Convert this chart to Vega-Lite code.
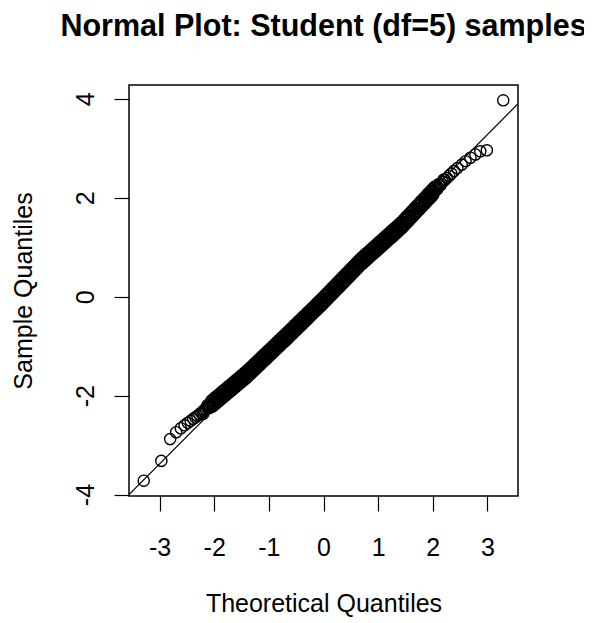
{
  "$schema": "https://vega.github.io/schema/vega-lite/v6.json",
  "autosize": {"type": "none"},
  "padding": {"left": 129, "top": 85, "right": 66, "bottom": 127},
  "width": 389,
  "height": 411,
  "background": "white",
  "title": {"text": "Normal Plot: Student (df=5) samples", "font": "Liberation Sans", "fontSize": 30.5, "fontWeight": "bold", "color": "black", "anchor": "middle", "frame": "group", "baseline": "alphabetic", "offset": 19},
  "config": {
    "view": {"stroke": "black", "strokeWidth": 1.5},
    "axis": {"labelFont": "Liberation Sans", "titleFont": "Liberation Sans", "labelFontSize": 25, "titleFontSize": 25, "titleFontWeight": "normal", "labelColor": "black", "titleColor": "black", "tickColor": "black", "tickWidth": 1.2, "tickSize": 15, "domain": false, "grid": false, "labelFlush": false, "labelOverlap": false, "labelExpr": "'' + datum.value"}
  },
  "datasets": {
    "pts": [
      {"x": -3.29, "y": -3.72}, {"x": -2.968, "y": -3.32}, {"x": -2.807, "y": -2.88}, {"x": -2.697, "y": -2.74}, {"x": -2.612, "y": -2.66}, {"x": -2.543, "y": -2.60}, {"x": -2.484, "y": -2.55}, {"x": -2.432, "y": -2.51}, {"x": -2.387, "y": -2.47}, {"x": -2.346, "y": -2.44}, {"x": -2.308, "y": -2.41}, {"x": -2.273, "y": -2.38}, {"x": -2.241, "y": -2.35}, {"x": -2.21, "y": -2.32}, {"x": -2.2, "y": -2.37}, {"x": -2.183, "y": -2.29}, {"x": -2.156, "y": -2.27}, {"x": -2.131, "y": -2.24}, {"x": -2.12, "y": -2.19}, {"x": -2.108, "y": -2.22}, {"x": -2.09, "y": -2.25}, {"x": -2.085, "y": -2.20},
      {"x": -2.06, "y": -2.178}, {"x": -2.04, "y": -2.109}, {"x": -2.02, "y": -2.190}, {"x": -2.00, "y": -2.122}, {"x": -1.98, "y": -2.053}, {"x": -1.96, "y": -2.135}, {"x": -1.94, "y": -2.066}, {"x": -1.92, "y": -1.998}, {"x": -1.90, "y": -2.079}, {"x": -1.88, "y": -2.011}, {"x": -1.86, "y": -1.942}, {"x": -1.84, "y": -2.023}, {"x": -1.82, "y": -1.955}, {"x": -1.80, "y": -1.886}, {"x": -1.78, "y": -1.968}, {"x": -1.76, "y": -1.899}, {"x": -1.74, "y": -1.831}, {"x": -1.72, "y": -1.912}, {"x": -1.70, "y": -1.843}, {"x": -1.68, "y": -1.775}, {"x": -1.66, "y": -1.856}, {"x": -1.64, "y": -1.788}, {"x": -1.62, "y": -1.719}, {"x": -1.60, "y": -1.801}, {"x": -1.58, "y": -1.732}, {"x": -1.56, "y": -1.664}, {"x": -1.54, "y": -1.745}, {"x": -1.52, "y": -1.676}, {"x": -1.50, "y": -1.608}, {"x": -1.48, "y": -1.689}, {"x": -1.46, "y": -1.621}, {"x": -1.44, "y": -1.552}, {"x": -1.42, "y": -1.634}, {"x": -1.40, "y": -1.565},
      {"x": -1.38, "y": -1.494}, {"x": -1.36, "y": -1.573}, {"x": -1.34, "y": -1.502}, {"x": -1.32, "y": -1.431}, {"x": -1.30, "y": -1.510}, {"x": -1.28, "y": -1.438}, {"x": -1.26, "y": -1.367}, {"x": -1.24, "y": -1.446}, {"x": -1.22, "y": -1.375}, {"x": -1.20, "y": -1.304}, {"x": -1.18, "y": -1.383}, {"x": -1.16, "y": -1.312}, {"x": -1.14, "y": -1.241}, {"x": -1.12, "y": -1.320}, {"x": -1.10, "y": -1.248}, {"x": -1.08, "y": -1.177}, {"x": -1.06, "y": -1.256}, {"x": -1.04, "y": -1.185}, {"x": -1.02, "y": -1.114}, {"x": -1.00, "y": -1.193}, {"x": -0.98, "y": -1.122}, {"x": -0.96, "y": -1.051}, {"x": -0.94, "y": -1.130}, {"x": -0.92, "y": -1.059}, {"x": -0.90, "y": -0.987}, {"x": -0.88, "y": -1.066}, {"x": -0.86, "y": -0.995}, {"x": -0.84, "y": -0.924}, {"x": -0.82, "y": -1.003}, {"x": -0.80, "y": -0.932}, {"x": -0.78, "y": -0.861}, {"x": -0.76, "y": -0.940}, {"x": -0.74, "y": -0.869}, {"x": -0.72, "y": -0.797}, {"x": -0.70, "y": -0.876}, {"x": -0.68, "y": -0.805},
      {"x": -0.66, "y": -0.734}, {"x": -0.64, "y": -0.812}, {"x": -0.62, "y": -0.741}, {"x": -0.60, "y": -0.669}, {"x": -0.58, "y": -0.748}, {"x": -0.56, "y": -0.676}, {"x": -0.54, "y": -0.604}, {"x": -0.52, "y": -0.683}, {"x": -0.50, "y": -0.611}, {"x": -0.48, "y": -0.540}, {"x": -0.46, "y": -0.618}, {"x": -0.44, "y": -0.546}, {"x": -0.42, "y": -0.475}, {"x": -0.40, "y": -0.553}, {"x": -0.38, "y": -0.482}, {"x": -0.36, "y": -0.410}, {"x": -0.34, "y": -0.488}, {"x": -0.32, "y": -0.417}, {"x": -0.30, "y": -0.345}, {"x": -0.28, "y": -0.424}, {"x": -0.26, "y": -0.352}, {"x": -0.24, "y": -0.280}, {"x": -0.22, "y": -0.359}, {"x": -0.20, "y": -0.287}, {"x": -0.18, "y": -0.215}, {"x": -0.16, "y": -0.294}, {"x": -0.14, "y": -0.222}, {"x": -0.12, "y": -0.151}, {"x": -0.10, "y": -0.229}, {"x": -0.08, "y": -0.157}, {"x": -0.06, "y": -0.086}, {"x": -0.04, "y": -0.164}, {"x": -0.02, "y": -0.093}, {"x": 0.00, "y": -0.021},
      {"x": 0.02, "y": -0.098}, {"x": 0.04, "y": -0.025}, {"x": 0.06, "y": 0.047}, {"x": 0.08, "y": -0.030}, {"x": 0.10, "y": 0.043}, {"x": 0.12, "y": 0.116}, {"x": 0.14, "y": 0.039}, {"x": 0.16, "y": 0.111}, {"x": 0.18, "y": 0.184}, {"x": 0.20, "y": 0.107}, {"x": 0.22, "y": 0.180}, {"x": 0.24, "y": 0.253}, {"x": 0.26, "y": 0.175}, {"x": 0.28, "y": 0.248}, {"x": 0.30, "y": 0.321}, {"x": 0.32, "y": 0.244}, {"x": 0.34, "y": 0.317}, {"x": 0.36, "y": 0.389}, {"x": 0.38, "y": 0.312}, {"x": 0.40, "y": 0.385}, {"x": 0.42, "y": 0.458}, {"x": 0.44, "y": 0.381}, {"x": 0.46, "y": 0.453}, {"x": 0.48, "y": 0.526}, {"x": 0.50, "y": 0.449}, {"x": 0.52, "y": 0.522}, {"x": 0.54, "y": 0.595}, {"x": 0.56, "y": 0.517}, {"x": 0.58, "y": 0.590}, {"x": 0.60, "y": 0.663}, {"x": 0.62, "y": 0.586}, {"x": 0.64, "y": 0.659}, {"x": 0.66, "y": 0.731},
      {"x": 0.68, "y": 0.653}, {"x": 0.70, "y": 0.722}, {"x": 0.72, "y": 0.792}, {"x": 0.74, "y": 0.712}, {"x": 0.76, "y": 0.782}, {"x": 0.78, "y": 0.852}, {"x": 0.80, "y": 0.772}, {"x": 0.82, "y": 0.841}, {"x": 0.84, "y": 0.911}, {"x": 0.86, "y": 0.831}, {"x": 0.88, "y": 0.901}, {"x": 0.90, "y": 0.971}, {"x": 0.92, "y": 0.891}, {"x": 0.94, "y": 0.960}, {"x": 0.96, "y": 1.030}, {"x": 0.98, "y": 0.950}, {"x": 1.00, "y": 1.020}, {"x": 1.02, "y": 1.090}, {"x": 1.04, "y": 1.010}, {"x": 1.06, "y": 1.079}, {"x": 1.08, "y": 1.149}, {"x": 1.10, "y": 1.069}, {"x": 1.12, "y": 1.139}, {"x": 1.14, "y": 1.209}, {"x": 1.16, "y": 1.129}, {"x": 1.18, "y": 1.198}, {"x": 1.20, "y": 1.268}, {"x": 1.22, "y": 1.188}, {"x": 1.24, "y": 1.258}, {"x": 1.26, "y": 1.328}, {"x": 1.28, "y": 1.248}, {"x": 1.30, "y": 1.317}, {"x": 1.32, "y": 1.387}, {"x": 1.34, "y": 1.307}, {"x": 1.36, "y": 1.377}, {"x": 1.38, "y": 1.447}, {"x": 1.40, "y": 1.367}, {"x": 1.42, "y": 1.436},
      {"x": 1.44, "y": 1.508}, {"x": 1.46, "y": 1.432}, {"x": 1.48, "y": 1.505}, {"x": 1.50, "y": 1.579}, {"x": 1.52, "y": 1.502}, {"x": 1.54, "y": 1.576}, {"x": 1.56, "y": 1.649}, {"x": 1.58, "y": 1.573}, {"x": 1.60, "y": 1.646}, {"x": 1.62, "y": 1.720}, {"x": 1.64, "y": 1.643}, {"x": 1.66, "y": 1.717}, {"x": 1.68, "y": 1.790}, {"x": 1.70, "y": 1.714}, {"x": 1.72, "y": 1.787}, {"x": 1.74, "y": 1.861}, {"x": 1.76, "y": 1.784}, {"x": 1.78, "y": 1.858}, {"x": 1.80, "y": 1.931}, {"x": 1.82, "y": 1.855}, {"x": 1.84, "y": 1.928}, {"x": 1.86, "y": 2.002}, {"x": 1.88, "y": 1.925}, {"x": 1.90, "y": 1.999}, {"x": 1.92, "y": 2.072}, {"x": 1.94, "y": 1.996}, {"x": 1.96, "y": 2.069}, {"x": 1.98, "y": 2.143}, {"x": 2.00, "y": 2.066}, {"x": 2.02, "y": 2.140}, {"x": 2.04, "y": 2.213},
      {"x": 2.06, "y": 2.19}, {"x": 2.08, "y": 2.17}, {"x": 2.09, "y": 2.22}, {"x": 2.11, "y": 2.28}, {"x": 2.12, "y": 2.255}, {"x": 2.14, "y": 2.25}, {"x": 2.15, "y": 2.29}, {"x": 2.18, "y": 2.325}, {"x": 2.2, "y": 2.37}, {"x": 2.22, "y": 2.36}, {"x": 2.26, "y": 2.40}, {"x": 2.30, "y": 2.445}, {"x": 2.34, "y": 2.49}, {"x": 2.39, "y": 2.54}, {"x": 2.45, "y": 2.60}, {"x": 2.53, "y": 2.67}, {"x": 2.60, "y": 2.74}, {"x": 2.69, "y": 2.81}, {"x": 2.78, "y": 2.875}, {"x": 2.87, "y": 2.94}, {"x": 2.99, "y": 2.96}, {"x": 3.29, "y": 3.97},
      {"x": -2.05, "y": -2.098}, {"x": -2.03, "y": -2.220}, {"x": -2.01, "y": -2.061}, {"x": -1.99, "y": -2.183}, {"x": -1.97, "y": -2.024}, {"x": -1.95, "y": -2.146}, {"x": -1.93, "y": -1.987}, {"x": -1.91, "y": -2.108}, {"x": -1.89, "y": -1.950}, {"x": -1.87, "y": -2.071}, {"x": -1.85, "y": -1.913}, {"x": -1.83, "y": -2.034}, {"x": -1.81, "y": -1.876}, {"x": -1.79, "y": -1.997}, {"x": -1.77, "y": -1.838}, {"x": -1.75, "y": -1.960}, {"x": -1.73, "y": -1.801}, {"x": -1.71, "y": -1.923}, {"x": -1.69, "y": -1.764}, {"x": -1.67, "y": -1.886}, {"x": -1.65, "y": -1.727}, {"x": -1.63, "y": -1.849}, {"x": -1.61, "y": -1.690}, {"x": -1.59, "y": -1.811}, {"x": -1.57, "y": -1.653}, {"x": -1.55, "y": -1.774}, {"x": -1.53, "y": -1.616}, {"x": -1.51, "y": -1.737}, {"x": -1.49, "y": -1.579}, {"x": -1.47, "y": -1.700}, {"x": -1.45, "y": -1.541}, {"x": -1.43, "y": -1.663}, {"x": -1.41, "y": -1.504},
      {"x": -1.39, "y": -1.624}, {"x": -1.37, "y": -1.463}, {"x": -1.35, "y": -1.582}, {"x": -1.33, "y": -1.421}, {"x": -1.31, "y": -1.540}, {"x": -1.29, "y": -1.379}, {"x": -1.27, "y": -1.498}, {"x": -1.25, "y": -1.337}, {"x": -1.23, "y": -1.456}, {"x": -1.21, "y": -1.295}, {"x": -1.19, "y": -1.413}, {"x": -1.17, "y": -1.252}, {"x": -1.15, "y": -1.371}, {"x": -1.13, "y": -1.210}, {"x": -1.11, "y": -1.329}, {"x": -1.09, "y": -1.168}, {"x": -1.07, "y": -1.287}, {"x": -1.05, "y": -1.126}, {"x": -1.03, "y": -1.245}, {"x": -1.01, "y": -1.084}, {"x": -0.99, "y": -1.202}, {"x": -0.97, "y": -1.041}, {"x": -0.95, "y": -1.160}, {"x": -0.93, "y": -0.999}, {"x": -0.91, "y": -1.118}, {"x": -0.89, "y": -0.957}, {"x": -0.87, "y": -1.076}, {"x": -0.85, "y": -0.915}, {"x": -0.83, "y": -1.034}, {"x": -0.81, "y": -0.872}, {"x": -0.79, "y": -0.991}, {"x": -0.77, "y": -0.830}, {"x": -0.75, "y": -0.949}, {"x": -0.73, "y": -0.788}, {"x": -0.71, "y": -0.907}, {"x": -0.69, "y": -0.746}, {"x": -0.67, "y": -0.865},
      {"x": -0.65, "y": -0.703}, {"x": -0.63, "y": -0.822}, {"x": -0.61, "y": -0.660}, {"x": -0.59, "y": -0.778}, {"x": -0.57, "y": -0.617}, {"x": -0.55, "y": -0.735}, {"x": -0.53, "y": -0.574}, {"x": -0.51, "y": -0.692}, {"x": -0.49, "y": -0.530}, {"x": -0.47, "y": -0.649}, {"x": -0.45, "y": -0.487}, {"x": -0.43, "y": -0.606}, {"x": -0.41, "y": -0.444}, {"x": -0.39, "y": -0.562}, {"x": -0.37, "y": -0.401}, {"x": -0.35, "y": -0.519}, {"x": -0.33, "y": -0.358}, {"x": -0.31, "y": -0.476}, {"x": -0.29, "y": -0.314}, {"x": -0.27, "y": -0.433}, {"x": -0.25, "y": -0.271}, {"x": -0.23, "y": -0.389}, {"x": -0.21, "y": -0.228}, {"x": -0.19, "y": -0.346}, {"x": -0.17, "y": -0.185}, {"x": -0.15, "y": -0.303}, {"x": -0.13, "y": -0.141}, {"x": -0.11, "y": -0.260}, {"x": -0.09, "y": -0.098}, {"x": -0.07, "y": -0.217}, {"x": -0.05, "y": -0.055}, {"x": -0.03, "y": -0.173}, {"x": -0.01, "y": -0.012},
      {"x": 0.01, "y": -0.130}, {"x": 0.03, "y": 0.033}, {"x": 0.05, "y": -0.084}, {"x": 0.07, "y": 0.079}, {"x": 0.09, "y": -0.038}, {"x": 0.11, "y": 0.124}, {"x": 0.13, "y": 0.007}, {"x": 0.15, "y": 0.170}, {"x": 0.17, "y": 0.053}, {"x": 0.19, "y": 0.216}, {"x": 0.21, "y": 0.098}, {"x": 0.23, "y": 0.261}, {"x": 0.25, "y": 0.144}, {"x": 0.27, "y": 0.307}, {"x": 0.29, "y": 0.190}, {"x": 0.31, "y": 0.352}, {"x": 0.33, "y": 0.235}, {"x": 0.35, "y": 0.398}, {"x": 0.37, "y": 0.281}, {"x": 0.39, "y": 0.444}, {"x": 0.41, "y": 0.326}, {"x": 0.43, "y": 0.489}, {"x": 0.45, "y": 0.372}, {"x": 0.47, "y": 0.535}, {"x": 0.49, "y": 0.418}, {"x": 0.51, "y": 0.580}, {"x": 0.53, "y": 0.463}, {"x": 0.55, "y": 0.626}, {"x": 0.57, "y": 0.509}, {"x": 0.59, "y": 0.672}, {"x": 0.61, "y": 0.554}, {"x": 0.63, "y": 0.717}, {"x": 0.65, "y": 0.600},
      {"x": 0.67, "y": 0.763}, {"x": 0.69, "y": 0.643}, {"x": 0.71, "y": 0.802}, {"x": 0.73, "y": 0.682}, {"x": 0.75, "y": 0.842}, {"x": 0.77, "y": 0.722}, {"x": 0.79, "y": 0.882}, {"x": 0.81, "y": 0.762}, {"x": 0.83, "y": 0.921}, {"x": 0.85, "y": 0.801}, {"x": 0.87, "y": 0.961}, {"x": 0.89, "y": 0.841}, {"x": 0.91, "y": 1.001}, {"x": 0.93, "y": 0.881}, {"x": 0.95, "y": 1.040}, {"x": 0.97, "y": 0.920}, {"x": 0.99, "y": 1.080}, {"x": 1.01, "y": 0.960}, {"x": 1.03, "y": 1.120}, {"x": 1.05, "y": 0.999}, {"x": 1.07, "y": 1.159}, {"x": 1.09, "y": 1.039}, {"x": 1.11, "y": 1.199}, {"x": 1.13, "y": 1.079}, {"x": 1.15, "y": 1.239}, {"x": 1.17, "y": 1.119}, {"x": 1.19, "y": 1.278}, {"x": 1.21, "y": 1.158}, {"x": 1.23, "y": 1.318}, {"x": 1.25, "y": 1.198}, {"x": 1.27, "y": 1.358}, {"x": 1.29, "y": 1.238}, {"x": 1.31, "y": 1.397}, {"x": 1.33, "y": 1.277}, {"x": 1.35, "y": 1.437}, {"x": 1.37, "y": 1.317}, {"x": 1.39, "y": 1.477}, {"x": 1.41, "y": 1.356}, {"x": 1.43, "y": 1.516},
      {"x": 1.45, "y": 1.400}, {"x": 1.47, "y": 1.563}, {"x": 1.49, "y": 1.447}, {"x": 1.51, "y": 1.610}, {"x": 1.53, "y": 1.494}, {"x": 1.55, "y": 1.657}, {"x": 1.57, "y": 1.541}, {"x": 1.59, "y": 1.704}, {"x": 1.61, "y": 1.588}, {"x": 1.63, "y": 1.751}, {"x": 1.65, "y": 1.635}, {"x": 1.67, "y": 1.798}, {"x": 1.69, "y": 1.682}, {"x": 1.71, "y": 1.845}, {"x": 1.73, "y": 1.729}, {"x": 1.75, "y": 1.892}, {"x": 1.77, "y": 1.776}, {"x": 1.79, "y": 1.939}, {"x": 1.81, "y": 1.823}, {"x": 1.83, "y": 1.986}, {"x": 1.85, "y": 1.870}, {"x": 1.87, "y": 2.033}, {"x": 1.89, "y": 1.917}, {"x": 1.91, "y": 2.080}, {"x": 1.93, "y": 1.964}, {"x": 1.95, "y": 2.127}, {"x": 1.97, "y": 2.011}, {"x": 1.99, "y": 2.174}, {"x": 2.01, "y": 2.058}, {"x": 2.03, "y": 2.221}
    ],
    "ref": [{"x": -3.56, "y": -4.003}, {"x": 3.56, "y": 3.901}]
  },
  "encoding": {
    "x": {"field": "x", "type": "quantitative", "scale": {"domain": [-3.56, 3.56], "nice": false, "zero": false},
      "axis": {"values": [-3, -2, -1, 0, 1, 2, 3], "title": "Theoretical Quantiles", "labelPadding": 24, "titleX": 194.5, "titleY": 115, "titleBaseline": "alphabetic", "titleAlign": "center"}},
    "y": {"field": "y", "type": "quantitative", "scale": {"domain": [-4.03, 4.28], "nice": false, "zero": false},
      "axis": {"values": [-4, -2, 0, 2, 4], "title": "Sample Quantiles", "labelAngle": 270, "labelAlign": "center", "labelBaseline": "alphabetic", "labelPadding": 21, "titleX": -97.5, "titleY": 205.5, "titleAngle": 270, "titleBaseline": "alphabetic", "titleAlign": "center"}}
  },
  "layer": [
    {"data": {"name": "pts"}, "mark": {"type": "point", "shape": "circle", "filled": false, "size": 125, "strokeWidth": 1.4, "color": "black", "opacity": 1}},
    {"data": {"name": "ref"}, "mark": {"type": "line", "color": "black", "strokeWidth": 1.2, "clip": true}}
  ]
}
